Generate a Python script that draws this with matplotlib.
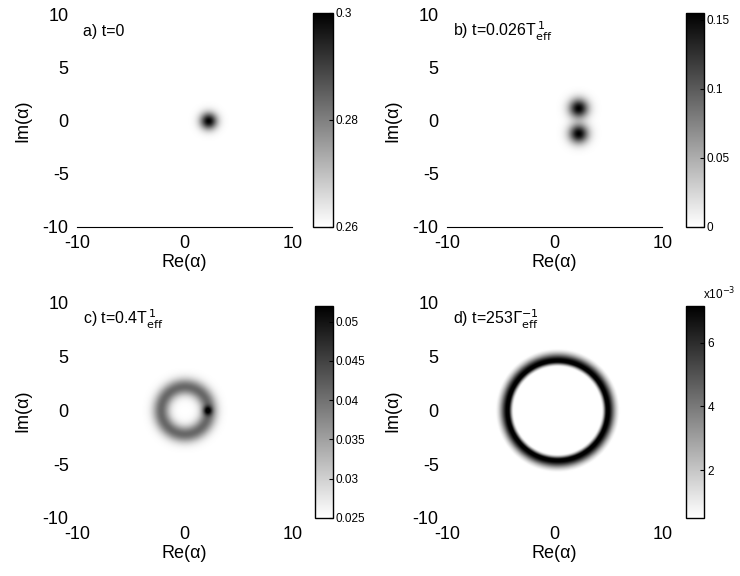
import numpy as np
import matplotlib.pyplot as plt

plt.rcParams['font.family'] = ['Liberation Sans', 'DejaVu Sans']
plt.rcParams['axes.unicode_minus'] = False

# === axes ===
re_lim = [-10, 10]
im_lim = [-10, 10]
x_ticks = [-10, 0, 10]
y_ticks = [-10, -5, 0, 5, 10]

# === panel labels ===
titles = ['a) t=0',
          r'b) t=0.026T$^{\,1}_{\rm eff}$',
          r'c) t=0.4T$^{\,1}_{\rm eff}$',
          r'd) t=253$\Gamma^{-1}_{\rm eff}$']

# === colour scales ===
c_min = [0.26, 0.0, 0.025, 0.5e-3]
c_max = [0.30, 0.155, 0.052, 7.15e-3]
c_ticks = [[0.26, 0.28, 0.30],
           [0.0, 0.05, 0.10, 0.15],
           [0.025, 0.03, 0.035, 0.04, 0.045, 0.05],
           [2e-3, 4e-3, 6e-3]]
c_labels = [['0.26', '0.28', '0.3'],
            ['0', '0.05', '0.1', '0.15'],
            ['0.025', '0.03', '0.035', '0.04', '0.045', '0.05'],
            ['2', '4', '6']]

# === blob / ring features (centre x, centre y, width, height) ===
base_level = [0.26, 0.0, 0.025, 0.0]
blobs = [[(2.2, 0.0, 0.55, 0.040)],
         [(2.2, 1.2, 0.62, 0.155), (2.2, -1.2, 0.62, 0.155)],
         [(2.1, 0.0, 0.30, 0.014)],
         []]
# ring: (centre x, centre y, radius, inner width, outer width, height)
rings = [[], [], [(0.0, 0.0, 2.2, 0.55, 0.55, 0.016)],
         [(0.25, 0.0, 4.6, 0.22, 0.5, 0.0076)]]

# axes rectangles in figure fraction
ax_rects = [[0.104, 0.606, 0.291, 0.368], [0.604, 0.606, 0.291, 0.368],
            [0.104, 0.101, 0.291, 0.373], [0.604, 0.101, 0.291, 0.373]]
cb_rects = [[0.423, 0.606, 0.027, 0.372], [0.927, 0.606, 0.024, 0.372],
            [0.425, 0.101, 0.025, 0.368], [0.927, 0.101, 0.025, 0.368]]

n = 401
g = np.linspace(-10, 10, n)
X, Y = np.meshgrid(g, g)

fig = plt.figure(figsize=(7.4, 5.76), dpi=100)

for i in range(4):
    Q = np.full_like(X, base_level[i])
    for (cx, cy, w, h) in blobs[i]:
        Q += h * np.exp(-((X-cx)**2 + (Y-cy)**2)/(2*w**2))
    for (cx, cy, r0, w_in, w_out, h) in rings[i]:
        r = np.sqrt((X-cx)**2 + (Y-cy)**2)
        w = np.where(r < r0, w_in, w_out)
        Q += h * np.exp(-(r-r0)**2/(2*w**2))

    ax = fig.add_axes(ax_rects[i])
    im = ax.imshow(Q, origin='lower', extent=re_lim + im_lim, cmap='gray_r',
                   vmin=c_min[i], vmax=c_max[i], aspect='auto',
                   interpolation='bilinear')
    ax.set_xlim(re_lim)
    ax.set_ylim(im_lim)
    ax.set_xticks(x_ticks)
    ax.set_yticks(y_ticks)
    ax.tick_params(length=0, labelsize=13, pad=6)
    for s in ['top', 'right', 'left']:
        ax.spines[s].set_visible(False)
    ax.spines['bottom'].set_visible(i < 2)
    ax.set_xlabel('Re(α)', fontsize=13, labelpad=1)
    ax.set_ylabel('Im(α)', fontsize=13, labelpad=8)
    ax.text(0.03, 0.9, titles[i], transform=ax.transAxes, fontsize=11.5)

    cax = fig.add_axes(cb_rects[i])
    cb = fig.colorbar(im, cax=cax)
    cb.set_ticks(c_ticks[i])
    cb.set_ticklabels(c_labels[i])
    cb.outline.set_linewidth(1.0)
    cax.tick_params(direction='in', length=3, labelsize=8.5, pad=2)

# multiplier of panel d colorbar
fig.text(0.95, 0.49, r'x10$^{-3}$', fontsize=8.5, va='center')

plt.savefig('out.png', dpi=100)
